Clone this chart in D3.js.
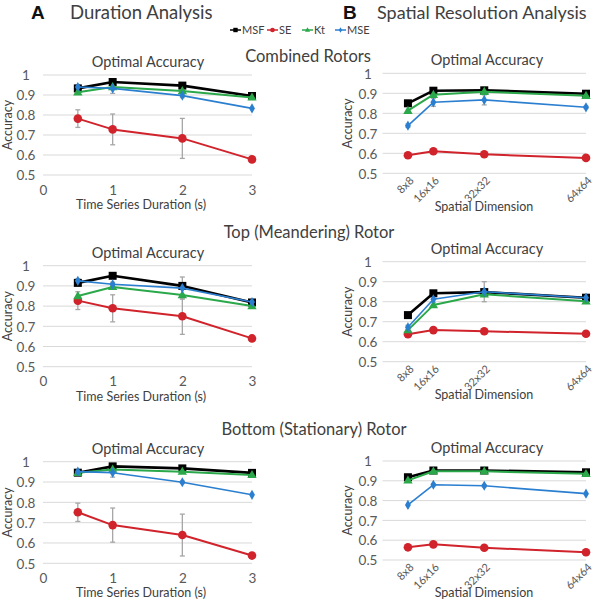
<!DOCTYPE html>
<html><head><meta charset="utf-8">
<script src="https://cdn.jsdelivr.net/npm/d3@7/dist/d3.min.js"></script>
<style>body{margin:0;background:#fff;} svg{display:block;font-family:Lato,"Open Sans",sans-serif;}</style>
</head><body>
<svg id="c" width="595" height="600"></svg>
<script>
// ---------- data ----------
const seriesNames = ["MSF", "SE", "Kt", "MSE"];
const durations = [0.5, 1, 2, 3];
const durTicks = [0, 1, 2, 3];
const dims = [8, 16, 32, 64];
const dimLabels = ["8x8", "16x16", "32x32", "64x64"];
const accTicks = [0.5, 0.6, 0.7, 0.8, 0.9, 1];

// Combined rotors – duration
const durCombMSF = [0.933, 0.965, 0.947, 0.895];
const durCombSE  = [0.782, 0.728, 0.683, 0.578];
const durCombKt  = [0.914, 0.940, 0.920, 0.888];
const durCombMSE = [0.940, 0.933, 0.897, 0.833];
const durCombSEerr  = [0.044, 0.077, 0.100, 0.004];
const durCombMSEerr = [0.010, 0.025, 0.010, 0.004];
// Combined rotors – spatial
const spCombMSF = [0.850, 0.913, 0.915, 0.898];
const spCombSE  = [0.590, 0.610, 0.595, 0.577];
const spCombKt  = [0.813, 0.893, 0.908, 0.888];
const spCombMSE = [0.738, 0.855, 0.867, 0.830];
const spCombSEerr  = [0.004, 0.004, 0.004, 0.004];
const spCombMSEerr = [0.008, 0.020, 0.025, 0.006];
// Top (meandering) rotor – duration
const durTopMSF = [0.915, 0.950, 0.900, 0.818];
const durTopSE  = [0.827, 0.789, 0.750, 0.640];
const durTopKt  = [0.850, 0.895, 0.855, 0.800];
const durTopMSE = [0.925, 0.908, 0.889, 0.820];
const durTopSEerr  = [0.044, 0.067, 0.090, 0.004];
const durTopMSEerr = [0.010, 0.010, 0.055, 0.005];
// Top (meandering) rotor – spatial
const spTopMSF = [0.733, 0.842, 0.848, 0.820];
const spTopSE  = [0.637, 0.658, 0.652, 0.640];
const spTopKt  = [0.658, 0.783, 0.837, 0.802];
const spTopMSE = [0.672, 0.812, 0.850, 0.820];
const spTopSEerr  = [0.004, 0.004, 0.004, 0.004];
const spTopMSEerr = [0.010, 0.015, 0.050, 0.008];
// Bottom (stationary) rotor – duration
const durBotMSF = [0.946, 0.977, 0.967, 0.945];
const durBotSE  = [0.751, 0.688, 0.639, 0.538];
const durBotKt  = [0.946, 0.962, 0.951, 0.935];
const durBotMSE = [0.951, 0.946, 0.899, 0.837];
const durBotSEerr  = [0.045, 0.084, 0.103, 0.004];
const durBotMSEerr = [0.008, 0.022, 0.006, 0.005];
// Bottom (stationary) rotor – spatial
const spBotMSF = [0.918, 0.952, 0.952, 0.943];
const spBotSE  = [0.564, 0.579, 0.562, 0.539];
const spBotKt  = [0.902, 0.948, 0.948, 0.935];
const spBotMSE = [0.778, 0.880, 0.875, 0.835];
const spBotSEerr  = [0.004, 0.004, 0.004, 0.004];
const spBotMSEerr = [0.005, 0.006, 0.006, 0.005];

// ---------- styling ----------
const colors = {MSF: "#000000", SE: "#d0232b", Kt: "#2aa84a", MSE: "#2b7fd0"};
const widths = {MSF: 2.6, SE: 2, Kt: 2, MSE: 1.6};
const textDark = "#404040", textAxis = "#595959";

const svg = d3.select("#c");

function drawMarker(g, name, x, y) {
  const c = colors[name];
  if (name === "MSF") {
    g.append("rect").attr("x", x - 4).attr("y", y - 4).attr("width", 8).attr("height", 8).attr("fill", c);
  } else if (name === "SE") {
    g.append("circle").attr("cx", x).attr("cy", y).attr("r", 4.3).attr("fill", c);
  } else if (name === "Kt") {
    g.append("path").attr("d", d3.symbol(d3.symbolTriangle, 38)()).attr("transform", `translate(${x},${y + 0.5})`).attr("fill", c);
  } else {
    g.append("path").attr("d", d3.symbol(d3.symbolDiamond, 30)()).attr("transform", `translate(${x},${y})`).attr("fill", c);
  }
}

function panel(opt) {
  const g = svg.append("g");
  const x = d3.scaleLinear().domain(opt.xDomain).range(opt.xRange);
  const y = d3.scaleLinear().domain([0.5, 1]).range(opt.yRange);
  // gridlines
  g.selectAll(".grid").data(accTicks).join("line")
    .attr("x1", opt.xRange[0]).attr("x2", opt.xRange[1])
    .attr("y1", d => y(d)).attr("y2", d => y(d))
    .attr("stroke", "#d9d9d9").attr("stroke-width", 1);
  // y axis labels
  const yAx = g.append("g").attr("transform", `translate(${opt.yLabelX},0)`)
    .call(d3.axisLeft(y).tickValues(accTicks).tickSize(0).tickPadding(0).tickFormat(d3.format("~g")));
  yAx.select(".domain").remove();
  yAx.selectAll("text").attr("text-anchor", "middle").attr("font-size", 13.5).attr("fill", textAxis)
    .attr("font-family", "Lato,sans-serif").attr("dy", "0.35em");
  // x axis labels
  const xAx = g.append("g").attr("transform", `translate(0,${opt.yRange[0]})`);
  if (opt.type === "dur") {
    xAx.call(d3.axisBottom(x).tickValues(durTicks).tickSize(0).tickPadding(10).tickFormat(d3.format("d")));
    xAx.selectAll("text").attr("font-size", 13.5).attr("fill", textAxis).attr("font-family", "Lato,sans-serif");
  } else {
    xAx.call(d3.axisBottom(x).tickValues(dims).tickSize(0).tickFormat((d, i) => dimLabels[i]));
    xAx.selectAll("text").attr("font-size", 11).attr("fill", textAxis).attr("font-family", "Lato,sans-serif")
      .attr("text-anchor", "end").attr("dy", 0).attr("y", 0)
      .attr("transform", "translate(6,8) rotate(-45)");
  }
  xAx.select(".domain").remove();
  // titles
  g.append("text").attr("x", opt.titleX).attr("y", y(1) - 8).attr("text-anchor", "middle")
    .attr("font-size", 14.5).attr("fill", textDark).text("Optimal Accuracy");
  g.append("text").attr("x", opt.xTitleX).attr("y", opt.xTitleY).attr("text-anchor", "middle")
    .attr("font-size", 12.5).attr("fill", textDark).text(opt.type === "dur" ? "Time Series Duration (s)" : "Spatial Dimension");
  g.append("text").attr("transform", `translate(${opt.yTitleX},${(y(0.5) + y(1)) / 2}) rotate(-90)`)
    .attr("text-anchor", "middle").attr("dy", "0.35em")
    .attr("font-size", 12.5).attr("fill", textDark).text("Accuracy");

  const xs = opt.type === "dur" ? durations : dims;
  // error bars
  seriesNames.forEach(n => {
    const err = opt.err[n];
    if (!err) return;
    xs.forEach((xv, i) => {
      const v = opt.values[n][i], e = err[i];
      if (e < 0.006) return;
      const px = x(xv);
      g.append("line").attr("x1", px).attr("x2", px).attr("y1", y(v + e)).attr("y2", y(v - e))
        .attr("stroke", "#a6a6a6").attr("stroke-width", 1.3);
      [v + e, v - e].forEach(t => g.append("line").attr("x1", px - 2.5).attr("x2", px + 2.5)
        .attr("y1", y(t)).attr("y2", y(t)).attr("stroke", "#a6a6a6").attr("stroke-width", 1.3));
    });
  });
  // lines and markers
  seriesNames.forEach(n => {
    const vals = opt.values[n];
    const line = d3.line().x((d, i) => x(xs[i])).y(d => y(d));
    g.append("path").attr("d", line(vals)).attr("fill", "none")
      .attr("stroke", colors[n]).attr("stroke-width", widths[n]).attr("stroke-linejoin", "round");
    vals.forEach((v, i) => drawMarker(g, n, x(xs[i]), y(v)));
  });
}

const aX = {xDomain: [0, 3], xRange: [43, 252], yLabelX: 26, yTitleX: 8, titleX: 148, xTitleX: 141};
const bX = {xDomain: [0, 64], xRange: [382.5, 586], yLabelX: 368, yTitleX: 348, titleX: 487, xTitleX: 484};

panel(Object.assign({type: "dur", yRange: [175, 75], xTitleY: 209,
  values: {MSF: durCombMSF, SE: durCombSE, Kt: durCombKt, MSE: durCombMSE},
  err: {SE: durCombSEerr, MSE: durCombMSEerr}}, aX));
panel(Object.assign({type: "sp", yRange: [173.3, 73.3], xTitleY: 211,
  values: {MSF: spCombMSF, SE: spCombSE, Kt: spCombKt, MSE: spCombMSE},
  err: {SE: spCombSEerr, MSE: spCombMSEerr}}, bX));
panel(Object.assign({type: "dur", yRange: [366.7, 265.7], xTitleY: 401,
  values: {MSF: durTopMSF, SE: durTopSE, Kt: durTopKt, MSE: durTopMSE},
  err: {SE: durTopSEerr, MSE: durTopMSEerr}}, aX));
panel(Object.assign({type: "sp", yRange: [361.7, 261.7], xTitleY: 399,
  values: {MSF: spTopMSF, SE: spTopSE, Kt: spTopKt, MSE: spTopMSE},
  err: {SE: spTopSEerr, MSE: spTopMSEerr}}, bX));
panel(Object.assign({type: "dur", yRange: [563.3, 461.7], xTitleY: 597,
  values: {MSF: durBotMSF, SE: durBotSE, Kt: durBotKt, MSE: durBotMSE},
  err: {SE: durBotSEerr, MSE: durBotMSEerr}}, aX));
panel(Object.assign({type: "sp", yRange: [560, 461], xTitleY: 597,
  values: {MSF: spBotMSF, SE: spBotSE, Kt: spBotKt, MSE: spBotMSE},
  err: {SE: spBotSEerr, MSE: spBotMSEerr}}, bX));

// headers
svg.append("text").attr("x", 31).attr("y", 19).attr("font-size", 19).attr("font-weight", "bold")
  .attr("font-family", "Liberation Sans,Arial,sans-serif").attr("fill", "#111").text("A");
svg.append("text").attr("x", 70).attr("y", 19).attr("font-size", 18.5).attr("fill", textDark).text("Duration Analysis");
svg.append("text").attr("x", 343).attr("y", 19).attr("font-size", 19).attr("font-weight", "bold")
  .attr("font-family", "Liberation Sans,Arial,sans-serif").attr("fill", "#111").text("B");
svg.append("text").attr("x", 377).attr("y", 19).attr("font-size", 18).attr("fill", textDark).text("Spatial Resolution Analysis");

const sections = [["Combined Rotors", 62], ["Top (Meandering) Rotor", 238], ["Bottom (Stationary) Rotor", 435]];
const sectionX = [308, 309, 314];
sections.forEach((s, i) => svg.append("text").attr("x", sectionX[i]).attr("y", s[1]).attr("text-anchor", "middle")
  .attr("font-size", 16.5).attr("fill", textDark).text(s[0]));

// legend
const legX = [230, 267, 302, 335];
const lg = svg.append("g");
seriesNames.forEach((n, i) => {
  const lx = legX[i], ly = 30;
  lg.append("line").attr("x1", lx).attr("x2", lx + 11).attr("y1", ly).attr("y2", ly)
    .attr("stroke", colors[n]).attr("stroke-width", 1.5);
  const gm = lg.append("g").attr("transform", `translate(${lx + 5.5},${ly}) scale(0.55)`);
  drawMarker(gm, n, 0, 0);
  lg.append("text").attr("x", lx + 12).attr("y", ly).attr("dy", "0.35em").attr("font-size", 11)
    .attr("fill", textDark).text(n);
});
</script>
</body></html>
